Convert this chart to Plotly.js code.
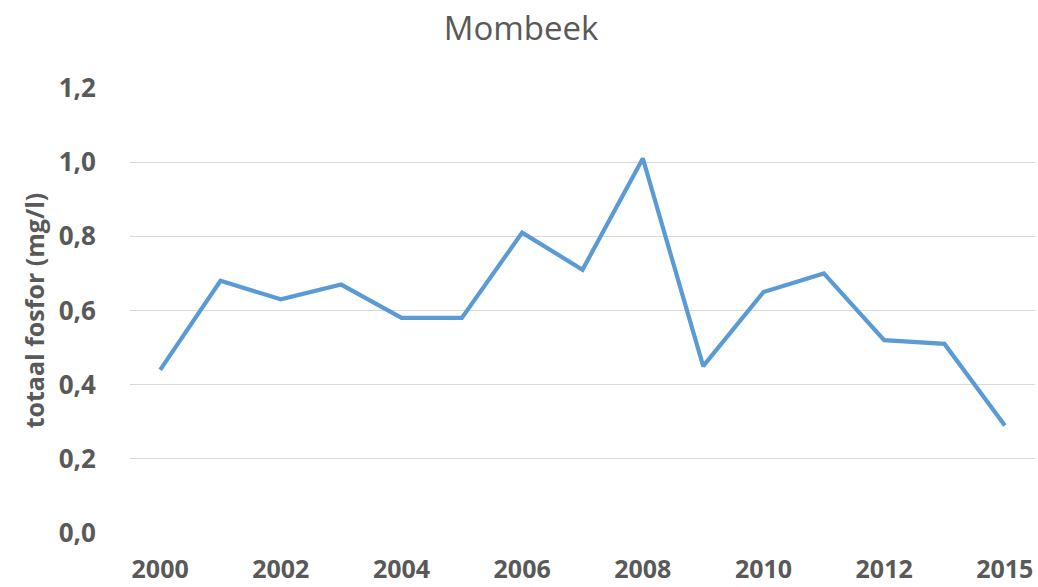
<!DOCTYPE html>
<html>
<head>
<meta charset="utf-8">
<script src="https://cdn.plot.ly/plotly-3.0.1.min.js"></script>
<style>
  html, body { margin: 0; padding: 0; background: #ffffff; }
  #chart { width: 1038px; height: 587px; }
</style>
</head>
<body>
<div id="chart"></div>
<script>
// Data
const years = ['2000','2001','2002','2003','2004','2005','2006','2007','2008','2009','2010','2011','2012','2013','2015'];
const totaalFosfor = [0.44, 0.68, 0.63, 0.67, 0.58, 0.58, 0.81, 0.71, 1.01, 0.45, 0.65, 0.70, 0.52, 0.51, 0.29];
const xTickLabels = ['2000','2002','2004','2006','2008','2010','2012','2015'];
const yTickVals = [0, 0.2, 0.4, 0.6, 0.8, 1.0, 1.2];
const yTickLabels = ['0,0','0,2','0,4','0,6','0,8','1,0','1,2'];

const trace = {
  type: 'scatter',
  mode: 'lines',
  x: years,
  y: totaalFosfor,
  line: { color: '#5B9BD5', width: 4.2, shape: 'linear' },
  hoverinfo: 'x+y'
};

const layout = {
  width: 1038,
  height: 587,
  paper_bgcolor: '#ffffff',
  plot_bgcolor: '#ffffff',
  margin: { l: 130, r: 3, t: 88, b: 54, pad: 0 },
  showlegend: false,
  title: {
    text: 'Mombeek',
    font: { family: 'Open Sans, sans-serif', size: 33, color: '#595959' },
    x: 0.502, xref: 'container', xanchor: 'center',
    y: 0.952, yref: 'container', yanchor: 'middle'
  },
  xaxis: {
    type: 'category',
    range: [-0.5, years.length - 0.5],
    tickmode: 'array',
    tickvals: xTickLabels,
    ticktext: xTickLabels,
    showgrid: false,
    zeroline: false,
    showline: false,
    ticks: 'outside',
    ticklen: 14,
    tickcolor: 'rgba(0,0,0,0)',
    tickfont: { family: 'Open Sans, sans-serif', size: 25, color: '#595959', weight: 'bold' },
    fixedrange: true,
    automargin: false
  },
  yaxis: {
    range: [0, 1.2],
    tickmode: 'array',
    tickvals: yTickVals,
    ticktext: yTickLabels,
    showgrid: true,
    gridcolor: '#d9d9d9',
    gridwidth: 1.3,
    zeroline: false,
    showline: false,
    ticks: 'outside',
    ticklen: 28,
    tickcolor: 'rgba(0,0,0,0)',
    tickfont: { family: 'Open Sans, sans-serif', size: 26, color: '#595959', weight: 'bold' },
    title: {
      text: 'totaal fosfor (mg/l)',
      font: { family: 'Open Sans, sans-serif', size: 25, color: '#595959', weight: 'bold' },
      standoff: 6
    },
    fixedrange: true,
    automargin: false
  }
};

Plotly.newPlot('chart', [trace], layout, { displayModeBar: false, staticPlot: true });
</script>
</body>
</html>
